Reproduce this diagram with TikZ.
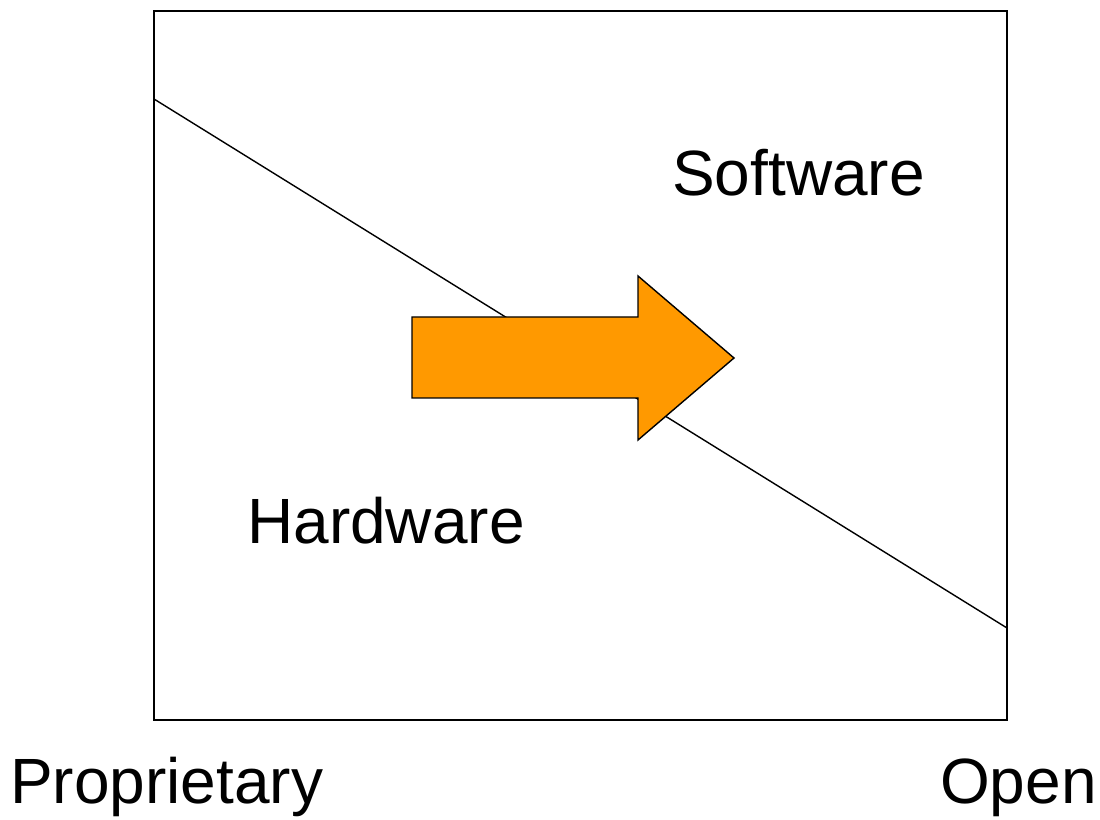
\documentclass[tikz,border=0pt]{standalone}
\usepackage{fontspec}
\setmainfont{Liberation Sans}
\definecolor{arroworange}{HTML}{FF9900}
\begin{document}
\begin{tikzpicture}[x=0.025cm, y=-0.025cm]
    \useasboundingbox (0,0) rectangle (1100,820);
    \tikzset{
        big text/.style={font=\fontsize{45.5}{52}\selectfont, inner sep=0pt},
        thin line/.style={line width=1pt, color=black}
    }
    % frame and split line
    \draw[thin line] (154,11) rectangle (1007,720);
    \coordinate (split start) at (154,99);
    \coordinate (split end) at (1007,628);
    \draw[thin line] (split start) -- (split end);
    % the block arrow
    \draw[thin line, fill=arroworange] (412,317) -- (638,317) -- (638,276) -- (734,358)
        -- (638,440) -- (638,398) -- (412,398) -- cycle;
    % labels
    \node[big text, anchor=base west] (software) at (672,196) {Software};
    \node[big text, anchor=base west] (hardware) at (247,543) {Hardware};
    \node[big text, anchor=base west] (proprietary) at (10,803) {Proprietary};
    \node[big text, anchor=base east] (open) at (1097,803) {Open};
\end{tikzpicture}
\end{document}
